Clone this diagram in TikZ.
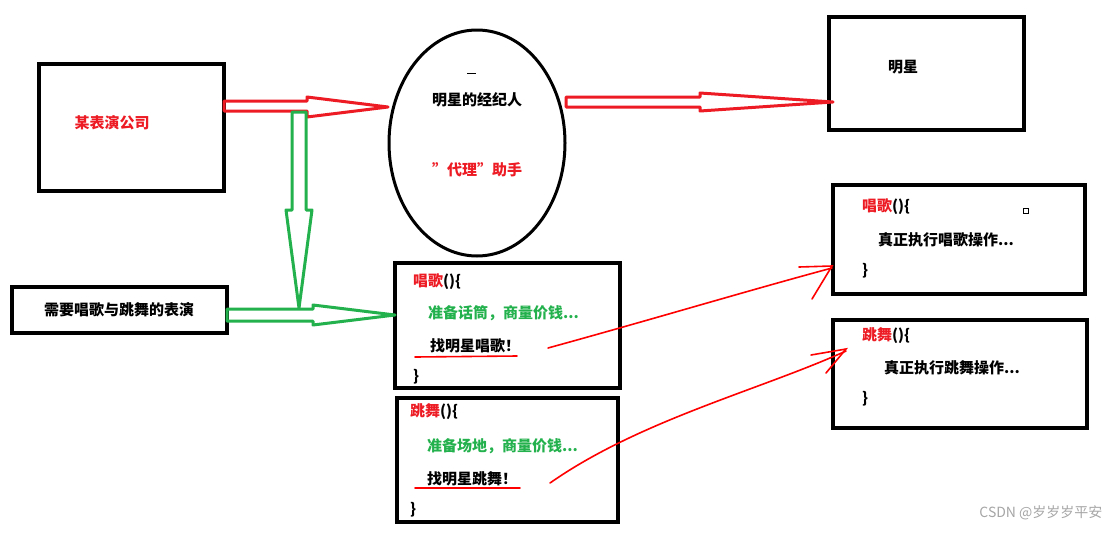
\documentclass[tikz,border=0pt]{standalone}
\usepackage{fontspec}
\setmainfont{Noto Sans CJK SC}
\newfontfamily\cjkb{Noto Sans CJK SC}[BoldFont={Noto Sans CJK SC Bold}]
\begin{document}
\begin{tikzpicture}[x=1pt,y=-1pt,
  box/.style={draw=black,line width=3.5pt},
  txt/.style={font=\fontsize{15}{18}\selectfont\bfseries,inner sep=0pt},
  lt/.style={txt,anchor=west},
  redc/.style={draw=red!85!black,line width=2pt},
  grnc/.style={draw=green!60!black,line width=3pt},
  hand/.style={draw=red,line width=1.6pt,line cap=round}]
\definecolor{rd}{RGB}{237,28,36}
\definecolor{gn}{RGB}{34,177,76}
\useasboundingbox (0,0) rectangle (1110,533);
\fill[white] (0,0) rectangle (1110,533);
% boxes
\draw[box] (39,64) rectangle (224,191);
\draw[box] (829,17) rectangle (1024,130);
\draw[box] (12,287) rectangle (227,333);
\draw[box] (395,263) rectangle (620,388);
\draw[box] (397,398) rectangle (618,522);
\draw[box] (833,185) rectangle (1085,294);
\draw[box] (833,320) rectangle (1087,428);
\draw[black,line width=3pt] (477,143) ellipse (88 and 113);
% block arrows
\draw[draw=rd,line width=3pt,line join=round] (224,101) -- (307,101) -- (307,97) -- (388,107) -- (307,117) -- (307,111) -- (224,111) -- cycle;
\draw[draw=rd,line width=3pt,line join=round] (566,97) -- (700,97) -- (700,93) -- (833,102) -- (700,111) -- (700,107) -- (566,107) -- cycle;
\draw[draw=gn,line width=3pt,line join=round] (292,112) -- (306,112) -- (306,210) -- (312,210) -- (299,308) -- (286,210) -- (292,210) -- cycle;
\draw[draw=gn,line width=3pt,line join=round] (227,309) -- (313,309) -- (313,305) -- (395,315) -- (313,325) -- (313,321) -- (227,321) -- cycle;
% texts
\node[txt,text=rd] (co) at (112,123) {某表演公司};
\node[txt] (ag) at (477,100) {明星的经纪人};
\draw[line width=1pt] (467,73) -- (476,73);
\node[txt,text=rd] (pr) at (477,170) {"代理"助手};
\node[txt] (st) at (903,67) {明星};
\node[txt] (nd) at (119,310) {需要唱歌与跳舞的表演};
% left code boxes
\node[lt] (s1) at (413,282) {\textcolor{rd}{唱歌}()\{};
\node[lt,text=gn] (s2) at (428,313) {准备话筒，商量价钱...};
\node[lt] (s3) at (430,346) {找明星唱歌！};
\node[lt] (s4) at (413,377) {\}};
\node[lt] (d1) at (410,412) {\textcolor{rd}{跳舞}()\{};
\node[lt,text=gn] (d2) at (427,446) {准备场地，商量价钱...};
\node[lt] (d3) at (427,479) {找明星跳舞！};
\node[lt] (d4) at (410,510) {\}};
% right code boxes
\node[lt] (r1) at (862,207) {\textcolor{rd}{唱歌}()\{};
\node[lt] (r2) at (878,240) {真正执行唱歌操作...};
\node[lt] (r3) at (862,271) {\}};
\node[lt] (t1) at (862,336) {\textcolor{rd}{跳舞}()\{};
\node[lt] (t2) at (884,368) {真正执行跳舞操作...};
\node[lt] (t3) at (862,399) {\}};
% hand drawn
\draw[hand] (415,357) -- (517,356);
\draw[hand] (548,348) .. controls (650,320) and (750,290) .. (832,268);
\draw[hand] (799,267) -- (832,266) -- (812,299);
\draw[hand] (415,488) -- (520,488);
\draw[hand] (550,483) .. controls (640,420) and (760,390) .. (846,351);
\draw[hand] (811,355) -- (846,349) -- (826,373);
\draw[black,line width=0.8pt] (1023,208) rectangle (1028,213);
\node[font=\fontsize{14}{16}\selectfont,text=black!35,anchor=east] (wm) at (1106,513) {CSDN @岁岁岁平安};
\end{tikzpicture}
\end{document}
